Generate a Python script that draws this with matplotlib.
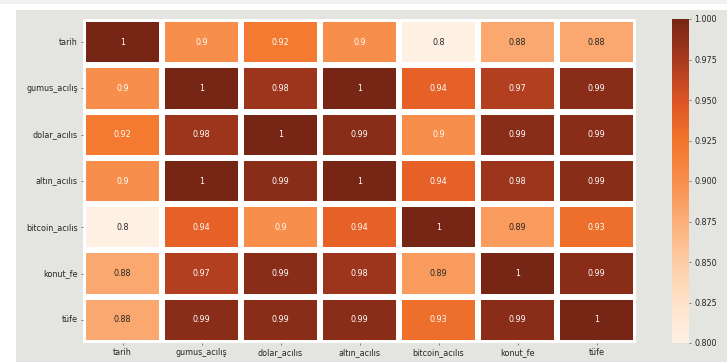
import matplotlib
matplotlib.use("Agg")
import matplotlib.pyplot as plt
import matplotlib.patches as mpatches
from matplotlib.colors import LinearSegmentedColormap
import numpy as np
import pandas as pd
import seaborn as sns

labels = ["tarih", "gumus_acılış", "dolar_acılıs", "altın_acılıs",
          "bitcoin_acılıs", "konut_fe", "tüfe"]

row_tarih   = [1.00, 0.90, 0.92, 0.90, 0.80, 0.88, 0.88]
row_gumus   = [0.90, 1.00, 0.98, 1.00, 0.94, 0.97, 0.99]
row_dolar   = [0.92, 0.98, 1.00, 0.99, 0.90, 0.99, 0.99]
row_altin   = [0.90, 1.00, 0.99, 1.00, 0.94, 0.98, 0.99]
row_bitcoin = [0.80, 0.94, 0.90, 0.94, 1.00, 0.89, 0.93]
row_konut   = [0.88, 0.97, 0.99, 0.98, 0.89, 1.00, 0.99]
row_tufe    = [0.88, 0.99, 0.99, 0.99, 0.93, 0.99, 1.00]

cbar_ticks = [0.800, 0.825, 0.850, 0.875, 0.900, 0.925, 0.950, 0.975, 1.000]

# orange ramp, light cream to deep rust
ramp = ["#fef1e4", "#fee2c8", "#fdcca4", "#fbaf78", "#f78e4c",
        "#f3752c", "#dc5426", "#a83a1e", "#772514"]
cmap = LinearSegmentedColormap.from_list("rust_oranges", ramp)

corr = pd.DataFrame([row_tarih, row_gumus, row_dolar, row_altin,
                     row_bitcoin, row_konut, row_tufe],
                    index=labels, columns=labels)

W, H = 727, 364
fig = plt.figure(figsize=(W / 58, H / 58), dpi=58, facecolor="white")

# page background panels
fig.patches.append(mpatches.Rectangle((0, 1 - 4 / H), 1, 4 / H,
                                      transform=fig.transFigure,
                                      facecolor="#f1f1f1", edgecolor="none", zorder=-2))
fig.patches.append(mpatches.Rectangle((16 / W, 2 / H), 1 - 16 / W, (H - 12) / H,
                                      transform=fig.transFigure,
                                      facecolor="#e4e4e0", edgecolor="none", zorder=-1))

ax = fig.add_axes([83 / W, 1 - 343 / H, (636 - 83) / W, (343 - 19) / H])
cax = fig.add_axes([672 / W, 1 - 343 / H, (689 - 672) / W, (343 - 19) / H])

sns.heatmap(corr, ax=ax, cbar_ax=cax, cmap=cmap, annot=True,
            linewidths=5, linecolor="white", vmin=0.8, vmax=1.0,
            annot_kws={"fontsize": 10})

ax.set_xticklabels(labels, rotation=0, fontsize=10, color="#262626")
ax.set_yticklabels(labels, rotation=0, fontsize=10, color="#262626")
ax.tick_params(length=3, color="#444444")

cax.set_yticks(cbar_ticks)
cax.set_yticklabels([f"{t:.3f}" for t in cbar_ticks], fontsize=10, color="#262626")
cax.tick_params(length=3, color="#444444")

fig.savefig("out.png", dpi=58, facecolor=fig.get_facecolor())
